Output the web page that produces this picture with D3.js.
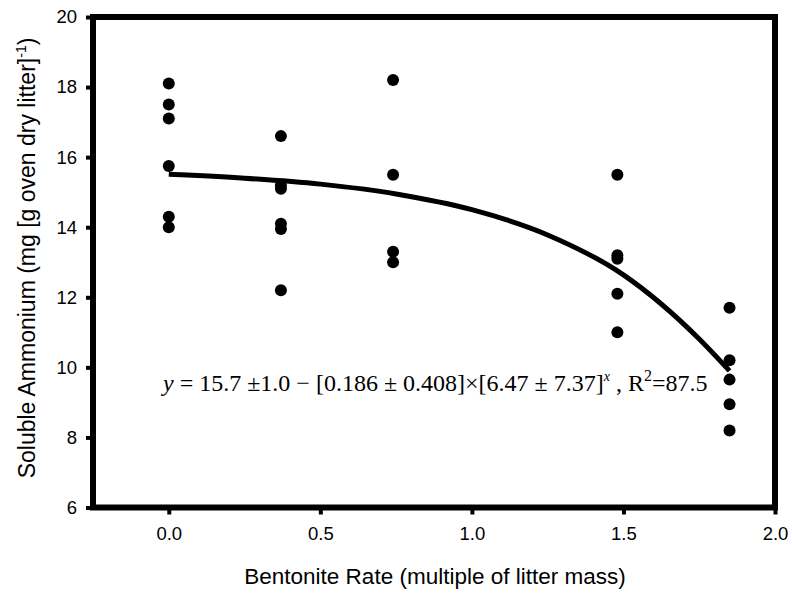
<!DOCTYPE html>
<html>
<head>
  <title>Soluble ammonium vs bentonite rate</title>
  <script src="https://cdn.jsdelivr.net/npm/d3@7"></script>
  <style>
    body { margin: 0; background: #fff; }
  </style>
</head>
<body>
  <script>
    // bentonite rates and the measured ammonium at each rate
    var rates = [0, 0.37, 0.74, 1.48, 1.85];
    var ammonium = [
      [18.1, 17.5, 17.1, 15.75, 14.3, 14.0],
      [16.6, 15.2, 15.1, 14.1, 13.95, 12.2],
      [18.2, 15.5, 13.3, 13.0],
      [15.5, 13.2, 13.1, 12.1, 11.0],
      [11.7, 10.2, 9.65, 8.95, 8.2]
    ];

    // fitted curve
    var fitX = [0, 0.25, 0.5, 0.75, 1.0, 1.25, 1.5, 1.75, 1.85];
    var fitY = [15.51, 15.40, 15.23, 14.95, 14.5, 13.78, 12.64, 10.81, 9.9];

    var xTicks = [0, 0.5, 1.0, 1.5, 2.0];
    var yTicks = [6, 8, 10, 12, 14, 16, 18, 20];

    var width = 792;
    var height = 593;
    // plot box (note: "top" is taken by window.top)
    var pLeft = 93, pRight = 775, pTop = 17, pBottom = 507.5;

    var svg = d3.select('body')
          .append('svg')
          .attr('width', width)
          .attr('height', height);

    var x = d3.scaleLinear().domain([-0.25, 2.0]).range([pLeft, pRight]);
    var y = d3.scaleLinear().domain([6, 20]).range([pBottom, pTop]);

    // axes with outward ticks
    var xAxis = svg.append('g')
        .attr('transform', 'translate(0,' + pBottom + ')')
        .call(d3.axisBottom(x).tickValues(xTicks).tickFormat(d3.format('.1f'))
          .tickSize(7).tickPadding(12));
    var yAxis = svg.append('g')
        .attr('transform', 'translate(' + pLeft + ',0)')
        .call(d3.axisLeft(y).tickValues(yTicks).tickSize(7).tickPadding(9));

    [xAxis, yAxis].forEach(function (g) {
      g.select('.domain').remove();
      g.selectAll('.tick line').attr('stroke', '#000').attr('stroke-width', 4);
      g.selectAll('.tick text')
        .attr('fill', '#000')
        .style('font-family', 'Liberation Sans, Arial, sans-serif')
        .style('font-size', '18.5px');
    });

    // thick frame round the plot
    svg.append('rect')
      .attr('x', pLeft)
      .attr('y', pTop)
      .attr('width', pRight - pLeft)
      .attr('height', pBottom - pTop)
      .attr('fill', 'none')
      .attr('stroke', '#000')
      .attr('stroke-width', 6);

    // fitted line
    var line = d3.line()
        .x(function (d) { return x(d[0]); })
        .y(function (d) { return y(d[1]); })
        .curve(d3.curveMonotoneX);
    svg.append('path')
      .datum(d3.zip(fitX, fitY))
      .attr('fill', 'none')
      .attr('stroke', '#000')
      .attr('stroke-width', 5)
      .attr('d', line);

    // points
    var pts = [];
    rates.forEach(function (r, i) {
      ammonium[i].forEach(function (v) { pts.push([r, v]); });
    });
    svg.append('g').selectAll('circle')
      .data(pts)
      .enter()
      .append('circle')
      .attr('cx', function (d) { return x(d[0]); })
      .attr('cy', function (d) { return y(d[1]); })
      .attr('r', 6)
      .attr('fill', '#000');

    // axis titles
    svg.append('text')
      .attr('x', 435)
      .attr('y', 584)
      .attr('text-anchor', 'middle')
      .style('font-family', 'Liberation Sans, Arial, sans-serif')
      .style('font-size', '22.5px')
      .text('Bentonite Rate (multiple of litter mass)');

    var yTitle = svg.append('text')
      .attr('transform', 'translate(35,' + 258 + ') rotate(-90)')
      .attr('text-anchor', 'middle')
      .style('font-family', 'Liberation Sans, Arial, sans-serif')
      .style('font-size', '23px');
    yTitle.append('tspan').text('Soluble Ammonium (mg [g oven dry litter]');
    yTitle.append('tspan').attr('dy', -9).style('font-size', '14px').text('-1');
    yTitle.append('tspan').attr('dy', 9).text(')');

    // equation
    var eq = svg.append('text')
      .attr('x', 163)
      .attr('y', 391)
      .style('font-family', 'Liberation Serif, Times New Roman, serif')
      .style('font-size', '24px');
    eq.append('tspan').style('font-style', 'italic').text('y');
    eq.append('tspan').text(' = 15.7 \u00b11.0 \u2212 [0.186 \u00b1 0.408]\u00d7[6.47 \u00b1 7.37]');
    eq.append('tspan').attr('dy', -10).style('font-style', 'italic').style('font-size', '14px').text('x');
    eq.append('tspan').attr('dy', 10).text(' , R');
    eq.append('tspan').attr('dy', -10).style('font-size', '16px').text('2');
    eq.append('tspan').attr('dy', 10).text('=87.5');
  </script>
</body>
</html>
